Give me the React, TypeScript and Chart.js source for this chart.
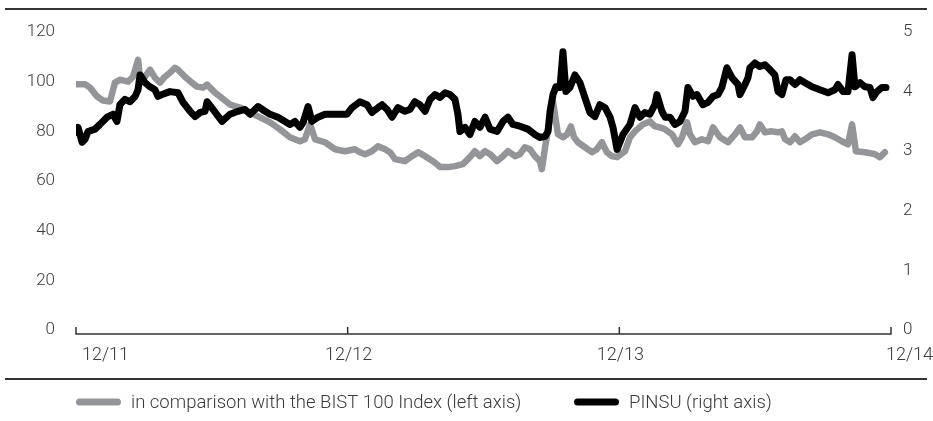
import React, { useEffect, useRef } from "react";
import { Chart, registerables } from "chart.js";

Chart.register(...registerables);

// ---- data ----
const xTickMonths = [0, 12, 24, 36];
const xTickLabels = ["12/11", "12/12", "12/13", "12/14"];
const seriesNames = [
  "in comparison with the BIST 100 Index (left axis)",
  "PINSU (right axis)",
];

// months since 12/2011
const indexMonths = [
  0, 0.4, 0.62, 0.93, 1.19, 1.5, 1.72, 1.94, 2.3, 2.52,
  2.74, 2.83, 3.05, 3.27, 3.49, 3.71, 3.93, 4.15, 4.37, 4.51,
  4.81, 5.12, 5.34, 5.61, 5.79, 6.14, 6.36, 6.8, 7.24, 7.69,
  8.13, 8.57, 9.01, 9.45, 9.89, 10.11, 10.34, 10.56, 11, 11.44,
  11.88, 12.32, 12.54, 12.77, 13.07, 13.34, 13.65, 13.87, 14.09, 14.53,
  14.84, 15.11, 15.42, 15.77, 16.08, 16.43, 16.74, 17.09, 17.4, 17.62,
  17.84, 18.07, 18.29, 18.6, 18.86, 19.08, 19.39, 19.61, 19.83, 20.05,
  20.27, 20.49, 20.58, 20.72, 20.89, 21.07, 21.29, 21.51, 21.69, 21.86,
  22, 22.17, 22.48, 22.79, 23.01, 23.23, 23.45, 23.67, 23.9, 24.25,
  24.47, 24.69, 25.04, 25.35, 25.57, 25.8, 26.02, 26.33, 26.59, 26.77,
  26.99, 27.12, 27.34, 27.65, 27.92, 28.14, 28.45, 28.8, 29.11, 29.33,
  29.55, 29.86, 30.08, 30.21, 30.43, 30.74, 31.01, 31.18, 31.32, 31.54,
  31.76, 31.98, 32.2, 32.51, 32.86, 33.22, 33.52, 33.83, 34.1, 34.28,
  34.45, 34.85, 35.29, 35.51, 35.73,
];
const indexValues = [
  99, 99, 97.6, 94, 92.4, 92, 99.6, 100.8, 100, 102,
  108.8, 101.6, 102, 104.8, 101.6, 99.6, 102, 103.6, 105.6, 104.8,
  102, 99.6, 98, 97.6, 98.8, 95.6, 94, 90.8, 89.6, 87.6,
  85.6, 83.6, 80.8, 77.6, 76, 76.8, 82.8, 76.8, 75.6, 72.8,
  72, 72.8, 71.6, 70.8, 72, 74, 72.8, 71.6, 68.8, 68,
  70, 71.6, 70, 68, 65.6, 65.6, 66, 66.8, 69.6, 72,
  70, 72, 70.8, 68, 70, 72, 70, 70.8, 73.6, 72.8,
  70, 68, 64.8, 73.6, 82.8, 92, 78.8, 77.6, 78.8, 82,
  77.6, 75.6, 73.6, 71.6, 72.8, 75.6, 71.6, 70, 69.6, 72,
  77.6, 80, 82.8, 84, 82, 81.6, 80.8, 78.8, 74.8, 77.6,
  83.6, 78.8, 75.6, 76.8, 76, 81.6, 77.6, 75.6, 78.8, 81.6,
  77.6, 77.6, 80, 82.8, 79.6, 80, 79.6, 80, 76.8, 75.6,
  78, 75.6, 76.8, 78.8, 79.6, 78.8, 77.6, 76, 74.8, 82.8,
  72, 71.6, 70.8, 69.6, 71.6,
];

const pinsuMonths = [
  0, 0.09, 0.27, 0.4, 0.53, 0.84, 1.06, 1.37, 1.63, 1.81,
  1.94, 2.16, 2.39, 2.61, 2.74, 2.83, 3.05, 3.27, 3.49, 3.62,
  3.8, 4.15, 4.51, 4.73, 5.04, 5.26, 5.48, 5.7, 5.79, 6.05,
  6.45, 6.8, 7.16, 7.46, 7.69, 8.04, 8.35, 8.57, 8.92, 9.23,
  9.45, 9.67, 9.89, 10.03, 10.25, 10.42, 10.69, 11, 11.44, 11.97,
  12.19, 12.54, 12.85, 13.07, 13.34, 13.52, 13.74, 13.96, 14.22, 14.53,
  14.75, 14.97, 15.19, 15.42, 15.64, 15.86, 16.08, 16.3, 16.52, 16.74,
  16.87, 16.96, 17.18, 17.4, 17.62, 17.84, 18.07, 18.29, 18.6, 18.86,
  19.08, 19.3, 19.61, 19.96, 20.27, 20.49, 20.72, 20.85, 20.94, 21.07,
  21.2, 21.38, 21.51, 21.64, 21.82, 22.04, 22.26, 22.48, 22.7, 22.92,
  23.14, 23.37, 23.59, 23.72, 23.9, 24.16, 24.47, 24.69, 24.91, 25.13,
  25.35, 25.57, 25.66, 25.88, 26.02, 26.24, 26.46, 26.68, 26.9, 27.03,
  27.25, 27.43, 27.69, 27.92, 28.14, 28.36, 28.53, 28.75, 28.98, 29.24,
  29.33, 29.55, 29.68, 29.77, 29.99, 30.21, 30.43, 30.65, 30.87, 31.01,
  31.18, 31.36, 31.54, 31.76, 31.98, 32.2, 32.51, 32.86, 33.22, 33.52,
  33.66, 33.88, 34.1, 34.28, 34.41, 34.63, 34.85, 35.07, 35.2, 35.38,
  35.6, 35.78,
];
const pinsuValues = [
  3.32, 3.4, 3.15, 3.2, 3.33, 3.37, 3.45, 3.57, 3.62, 3.5,
  3.78, 3.87, 3.83, 3.92, 4.03, 4.28, 4.15, 4.08, 4.03, 3.92,
  3.95, 4.0, 3.98, 3.82, 3.67, 3.58, 3.65, 3.67, 3.83, 3.7,
  3.5, 3.62, 3.67, 3.7, 3.62, 3.75, 3.67, 3.62, 3.57, 3.5,
  3.45, 3.5, 3.4, 3.48, 3.75, 3.5, 3.57, 3.62, 3.62, 3.62,
  3.73, 3.83, 3.78, 3.65, 3.73, 3.78, 3.7, 3.57, 3.73, 3.67,
  3.7, 3.83, 3.78, 3.67, 3.87, 3.95, 3.9, 3.98, 3.95, 3.87,
  3.62, 3.33, 3.4, 3.28, 3.5, 3.4, 3.57, 3.37, 3.33, 3.5,
  3.57, 3.45, 3.42, 3.37, 3.28, 3.23, 3.25, 3.33, 3.67, 3.95,
  4.08, 4.07, 4.67, 4.0, 4.07, 4.28, 4.15, 3.9, 3.65, 3.58,
  3.78, 3.73, 3.57, 3.4, 3.03, 3.28, 3.45, 3.73, 3.57, 3.65,
  3.62, 3.78, 3.95, 3.67, 3.57, 3.57, 3.45, 3.5, 3.67, 4.07,
  3.92, 3.95, 3.78, 3.82, 3.92, 3.95, 4.07, 4.4, 4.23, 4.12,
  3.95, 4.12, 4.23, 4.4, 4.48, 4.42, 4.45, 4.37, 4.28, 4.0,
  3.95, 4.2, 4.2, 4.12, 4.2, 4.15, 4.08, 4.03, 3.98, 4.03,
  4.12, 4.0, 4.0, 4.62, 4.08, 4.15, 4.08, 4.07, 3.9, 4.0,
  4.07, 4.07,
];

const leftAxis = { min: 0, max: 120, step: 20 };
const rightAxis = { min: 0, max: 5, step: 1 };

// ---- styles ----
const FONT = "Roboto";
const TEXT_COLOR = "#3a3a3a";
const GREY = "#939598";
const BLACK = "#000000";

export default function App() {
  const ref = useRef<HTMLCanvasElement | null>(null);

  useEffect(() => {
    document.body.style.margin = "0";
    const canvas = ref.current;
    if (!canvas) return;

    const decor = {
      id: "decor",
      afterDraw(chart: any) {
        const { ctx, chartArea, scales } = chart;
        const xs = scales.x;
        ctx.save();
        // horizontal rules
        ctx.fillStyle = "#333333";
        ctx.fillRect(5, 8, 922, 2);
        ctx.fillRect(5, 378, 922, 2);

        // x axis line + upward ticks
        const axisY = chartArea.bottom + 4;
        const x0 = xs.getPixelForValue(xTickMonths[0]);
        const x1 = xs.getPixelForValue(xTickMonths[xTickMonths.length - 1]);
        ctx.strokeStyle = "#333333";
        ctx.lineWidth = 1.5;
        ctx.lineCap = "butt";
        ctx.beginPath();
        ctx.moveTo(x0, axisY);
        ctx.lineTo(x1, axisY);
        xTickMonths.forEach((m) => {
          const px = xs.getPixelForValue(m);
          ctx.moveTo(px, axisY + 0.75);
          ctx.lineTo(px, axisY - 7);
        });
        ctx.stroke();

        // x tick labels
        ctx.fillStyle = TEXT_COLOR;
        ctx.font = `300 18px ${FONT}`;
        ctx.textBaseline = "middle";
        xTickMonths.forEach((m, i) => {
          const px = xs.getPixelForValue(m);
          if (i === 0) {
            ctx.textAlign = "left";
            ctx.fillText(xTickLabels[i], px + 6, axisY + 21);
          } else if (i === xTickMonths.length - 1) {
            ctx.textAlign = "left";
            ctx.fillText(xTickLabels[i], px - 5, axisY + 21);
          } else {
            ctx.textAlign = "center";
            ctx.fillText(xTickLabels[i], px + 1, axisY + 21);
          }
        });

        // legend
        const ly = 402;
        const items = [
          { x: 76, color: chart.data.datasets[1].borderColor, label: chart.data.datasets[1].label },
          { x: 574, color: chart.data.datasets[0].borderColor, label: chart.data.datasets[0].label },
        ];
        ctx.font = `300 18.5px ${FONT}`;
        ctx.textAlign = "left";
        items.forEach((it) => {
          ctx.strokeStyle = it.color;
          ctx.lineWidth = 7;
          ctx.lineCap = "round";
          ctx.beginPath();
          ctx.moveTo(it.x + 3.5, ly);
          ctx.lineTo(it.x + 45 - 3.5, ly);
          ctx.stroke();
          ctx.fillStyle = TEXT_COLOR;
          ctx.fillText(it.label, it.x + 55, ly + 1);
        });
        ctx.restore();
      },
    };

    const chart = new Chart(canvas, {
      type: "line",
      data: {
        datasets: [
          {
            label: seriesNames[1],
            data: pinsuMonths.map((m, i) => ({ x: m, y: pinsuValues[i] })),
            borderColor: BLACK,
            borderWidth: 7,
            pointRadius: 0,
            tension: 0,
            borderJoinStyle: "round",
            borderCapStyle: "round",
            yAxisID: "y1",
            order: 0,
          },
          {
            label: seriesNames[0],
            data: indexMonths.map((m, i) => ({ x: m, y: indexValues[i] })),
            borderColor: GREY,
            borderWidth: 6.5,
            pointRadius: 0,
            tension: 0,
            borderJoinStyle: "round",
            borderCapStyle: "round",
            yAxisID: "y",
            order: 1,
          },
        ],
      },
      options: {
        responsive: false,
        animation: false,
        layout: { padding: { top: 32, bottom: 91, left: 0, right: 0 } },
        plugins: {
          legend: { display: false },
          tooltip: { enabled: false },
        },
        scales: {
          x: {
            type: "linear",
            display: false,
            min: xTickMonths[0],
            max: xTickMonths[xTickMonths.length - 1],
          },
          y: {
            position: "left",
            min: leftAxis.min,
            max: leftAxis.max,
            grid: { display: false, drawTicks: false },
            border: { display: false },
            ticks: {
              stepSize: leftAxis.step,
              padding: 21,
              color: TEXT_COLOR,
              font: { family: FONT, size: 17, weight: "300" },
            },
            afterFit: (s: any) => {
              s.width = 76;
            },
          },
          y1: {
            position: "right",
            min: rightAxis.min,
            max: rightAxis.max,
            grid: { display: false, drawTicks: false },
            border: { display: false },
            ticks: {
              stepSize: rightAxis.step,
              padding: 12,
              color: TEXT_COLOR,
              font: { family: FONT, size: 17, weight: "300" },
            },
            afterFit: (s: any) => {
              s.width = 42;
            },
          },
        },
      },
      plugins: [decor],
    });

    return () => chart.destroy();
  }, []);

  return (
    <div style={{ width: 933, height: 421, position: "relative", background: "#fff" }}>
      <canvas ref={ref} width={933} height={421} style={{ display: "block" }} />
    </div>
  );
}
